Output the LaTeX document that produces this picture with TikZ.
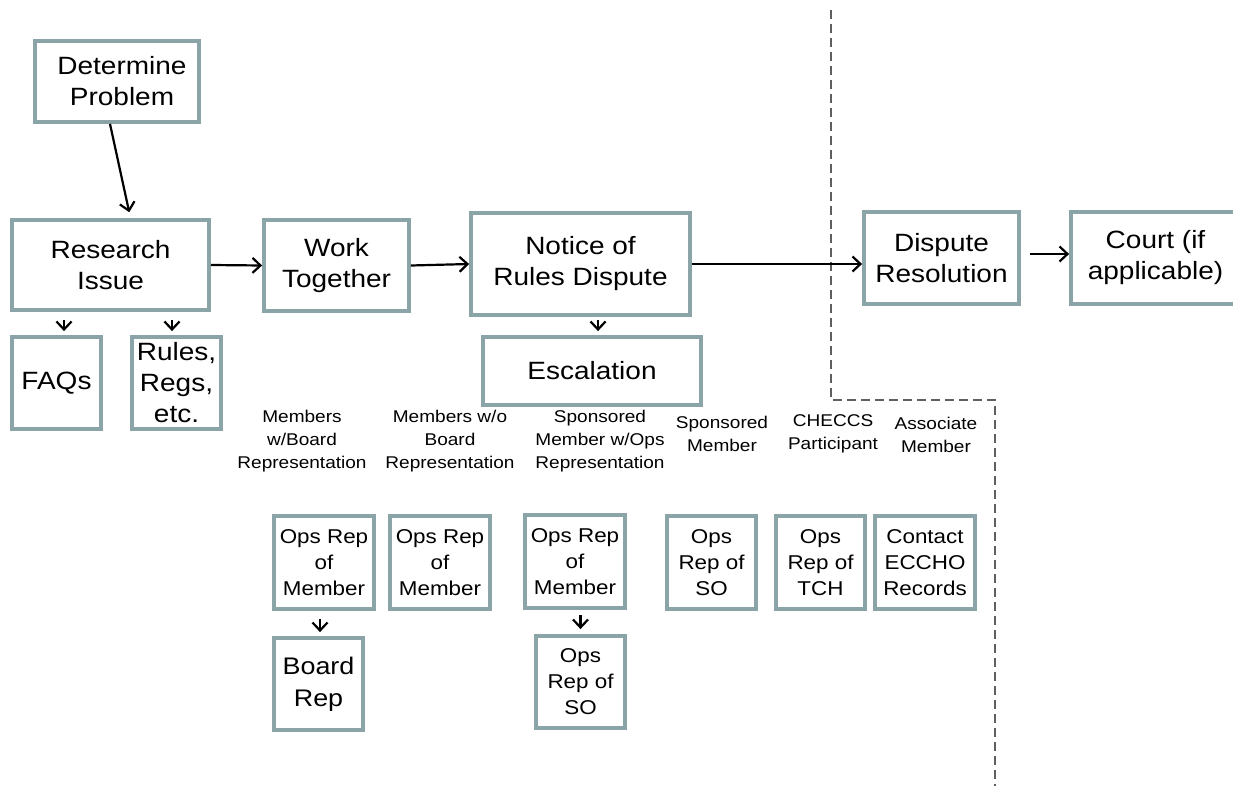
\documentclass[tikz,border=0pt]{standalone}
\usepackage{fontspec}
\setmainfont{Liberation Sans}[FakeStretch=1.12]
\usetikzlibrary{arrows.meta}
\definecolor{boxline}{RGB}{138,164,167}
\definecolor{dashline}{RGB}{95,95,95}
\tikzset{
 box/.style={draw=boxline,line width=3.8pt,align=center,inner sep=0pt},
 bigtext/.style={font=\fontsize{25}{31}\selectfont},
 midtext/.style={font=\fontsize{20}{26}\selectfont},
 boardtext/.style={font=\fontsize{24}{32}\selectfont},
 grouplabel/.style={font=\fontsize{17}{23}\selectfont,align=center,inner sep=0pt},
 arr/.style={-{Straight Barb[length=8pt,width=15pt,line width=2.2pt]},line width=2.2pt},
 sep/.style={dashline,line width=2.8pt,dash pattern=on 9pt off 5pt}
}
\begin{document}
\begin{tikzpicture}[x=1pt,y=-1pt]
 \useasboundingbox (0,0) rectangle (1233,786);
 \clip (0,0) rectangle (1233,786);
 \draw[sep] (831,10)--(831,400)--(995,400)--(995,786);
 \node[box,bigtext,minimum width=164pt,minimum height=81pt,text width=150pt] (det) at (117,81.5) {\hspace*{10pt}Determine\\\hspace*{10pt}Problem};
 \node[box,bigtext,minimum width=197pt,minimum height=90pt] (res) at (110.5,265) {Research\\Issue};
 \node[box,bigtext,minimum width=145pt,minimum height=91pt] (work) at (336.5,265.5) {Work\\Together};
 \node[box,bigtext,minimum width=219pt,minimum height=102pt] (notice) at (580.5,264) {Notice of\\Rules Dispute};
 \node[box,bigtext,minimum width=218pt,minimum height=68pt] (esc) at (592,371) {Escalation};
 \node[box,bigtext,minimum width=89pt,minimum height=92pt] (faq) at (56.5,383) {FAQs};
 \node[box,bigtext,minimum width=89pt,minimum height=92pt] (rules) at (176.5,383) {Rules,\\Regs,\\etc.};
 \node[box,bigtext,minimum width=155pt,minimum height=92pt] (disp) at (941.5,258) {Dispute\\Resolution};
 \node[box,bigtext,minimum width=169pt,minimum height=92pt] (court) at (1155.5,258) {Court (if\\applicable)};
 \node[grouplabel] (memboard) at (302,441) {Members\\w/Board\\Representation};
 \node[grouplabel] (memnoboard) at (450,441) {Members w/o\\Board\\Representation};
 \node[grouplabel] (sponops) at (600,441) {Sponsored\\Member w/Ops\\Representation};
 \node[grouplabel] (spon) at (722,433.5) {Sponsored\\Member};
 \node[grouplabel] (checcs) at (833,434) {CHECCS\\Participant};
 \node[grouplabel] (assoc) at (936,435) {Associate\\Member};
 \node[box,midtext,minimum width=100pt,minimum height=93pt] (opsa) at (324,562.5) {Ops Rep\\of\\Member};
 \node[box,boardtext,minimum width=89pt,minimum height=92pt] (board) at (318.5,684) {Board\\Rep};
 \node[box,midtext,minimum width=100pt,minimum height=93pt] (opsb) at (440,562.5) {Ops Rep\\of\\Member};
 \node[box,midtext,minimum width=100pt,minimum height=93pt] (opsc) at (575,561.5) {Ops Rep\\of\\Member};
 \node[box,midtext,minimum width=89pt,minimum height=92pt] (soa) at (580.5,682) {Ops\\Rep of\\SO};
 \node[box,midtext,minimum width=89pt,minimum height=93pt] (sob) at (711.5,562.5) {Ops\\Rep of\\SO};
 \node[box,midtext,minimum width=89pt,minimum height=93pt] (tch) at (820.5,562.5) {Ops\\Rep of\\TCH};
 \node[box,midtext,minimum width=100pt,minimum height=93pt] (eccho) at (925,562.5) {Contact\\ECCHO\\Records};
 \coordinate (faqtop) at ([xshift=7.5pt]faq.north);
 \coordinate (rulestop) at ([xshift=-4.5pt]rules.north);
 \coordinate (esctop) at ([xshift=6pt]esc.north);
 \coordinate (boardtop) at ([xshift=1.5pt]board.north);
 \draw[arr,shorten >=6pt] ([xshift=-7pt]det.south) -- ([xshift=20pt]res.north);
 \draw[arr] (res.east) -- (work.west);
 \draw[arr] (work.east) -- (notice.west);
 \draw[arr] (notice.east) -- (notice.east -| disp.west);
 \draw[arr] ([xshift=9pt,yshift=4pt]disp.east) -- ([yshift=4pt]court.west);
 \draw[arr,shorten <=8pt,shorten >=4pt] (faqtop |- res.south) -- (faqtop);
 \draw[arr,shorten <=8pt,shorten >=4pt] (rulestop |- res.south) -- (rulestop);
 \draw[arr,shorten <=3pt,shorten >=4pt] (esctop |- notice.south) -- (esctop);
 \draw[arr,shorten <=8pt,shorten >=4pt] (boardtop |- opsa.south) -- (boardtop);
 \draw[arr,shorten <=5pt,shorten >=5pt] (soa.north |- opsc.south) -- (soa.north);
\end{tikzpicture}
\end{document}
